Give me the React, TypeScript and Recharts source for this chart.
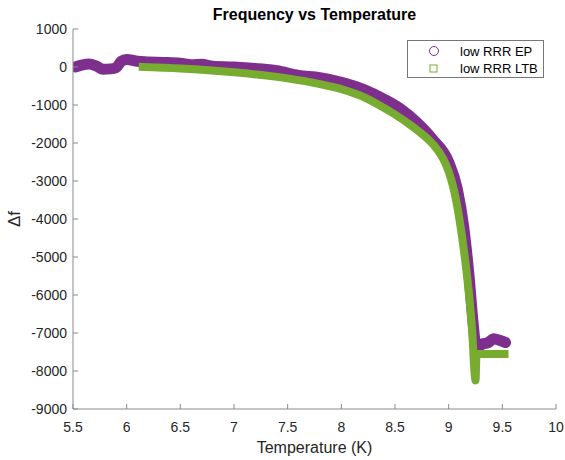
import { ComposedChart, Line, XAxis, YAxis, Legend } from 'recharts'

// low RRR EP (purple circles)
const epTemp = [
  5.52, 5.58, 5.65, 5.72, 5.78, 5.85, 5.9, 5.95, 6.0, 6.1, 6.2, 6.35, 6.5, 6.6, 6.7, 6.8, 7.0, 7.2, 7.4,
  7.6, 7.8, 8.0, 8.2, 8.4, 8.55, 8.7, 8.85, 9.0, 9.08, 9.14, 9.19, 9.23, 9.26, 9.3, 9.37, 9.42, 9.48, 9.53,
]
const epShift = [
  0, 50, 80, 20, -60, -50, -20, 150, 200, 150, 130, 120, 100, 60, 70, 20, 0, -40, -100,
  -220, -280, -400, -580, -850, -1100, -1450, -1900, -2500, -3200, -4200, -5500, -6800, -7500, -7300, -7250, -7150, -7200, -7250,
]

// low RRR LTB (green squares)
const ltbTemp = [
  6.15, 6.5, 7.0, 7.5, 7.8, 8.0, 8.2, 8.35, 8.5, 8.65, 8.75, 8.85, 8.95, 9.0, 9.05, 9.1, 9.15, 9.19, 9.22,
  9.24, 9.25, 9.26, 9.52,
]
const ltbShift = [
  0, -40, -140, -300, -450, -580, -780, -1000, -1250, -1540, -1760, -2020, -2420, -2750, -3250, -4000, -5000,
  -6000, -7000, -8000, -8250, -7550, -7550,
]

const xTicks = [5.5, 6, 6.5, 7, 7.5, 8, 8.5, 9, 9.5, 10]
const yTicks = [1000, 0, -1000, -2000, -3000, -4000, -5000, -6000, -7000, -8000, -9000]

const epData = epTemp.map((t, i) => ({ t, df: epShift[i] }))
const ltbData = ltbTemp.map((t, i) => ({ t, df: ltbShift[i] }))

const FONT = '"Liberation Sans", Arial, Helvetica, sans-serif'
const PURPLE = '#7E2F8E'
const GREEN = '#77AC30'
const AXIS = '#8a8a8a'

const XTick = ({ x = 0, y = 0, payload }: any) => (
  <g>
    <line x1={x} y1={y} x2={x} y2={y - 5} stroke={AXIS} />
    <text x={x} y={y + 23} textAnchor="middle" fill="#262626" fontSize={14} fontFamily={FONT}>
      {payload?.value}
    </text>
  </g>
)

const YTick = ({ x = 0, y = 0, payload }: any) => (
  <g>
    <line x1={x} y1={y} x2={x + 5} y2={y} stroke={AXIS} />
    <text x={x - 6} y={y + 5} textAnchor="end" fill="#262626" fontSize={14} fontFamily={FONT}>
      {payload?.value}
    </text>
  </g>
)

const LegendBox = () => (
  <div
    style={{
      width: 135,
      height: 36,
      border: '1px solid #777',
      background: '#fff',
      fontFamily: FONT,
      fontSize: 13,
      color: '#000',
      position: 'relative',
    }}
  >
    <svg width={135} height={36} style={{ position: 'absolute', left: 0, top: 0 }}>
      <circle cx={26} cy={10} r={4.5} fill="none" stroke={PURPLE} strokeWidth={1} />
      <rect x={22} y={24} width={7} height={7} fill="none" stroke={GREEN} strokeWidth={1} />
      <text x={52} y={15} fontSize={13} fontFamily={FONT}>low RRR EP</text>
      <text x={52} y={32} fontSize={13} fontFamily={FONT}>low RRR LTB</text>
    </svg>
  </div>
)

export default function App() {
  return (
    <div style={{ position: 'absolute', left: 0, top: 0, width: 565, height: 460, background: '#fff' }}>
      <ComposedChart width={565} height={460} margin={{ top: 29, right: 9, bottom: 50, left: 72 }}>
        <XAxis
          type="number"
          dataKey="t"
          domain={[5.5, 10]}
          ticks={xTicks}
          interval={0}
          height={1}
          tickSize={0}
          tickMargin={0}
          stroke={AXIS}
          tick={<XTick />}
          allowDataOverflow
        />
        <YAxis
          type="number"
          dataKey="df"
          domain={[-9000, 1000]}
          ticks={yTicks}
          interval={0}
          width={1}
          tickSize={0}
          tickMargin={0}
          stroke={AXIS}
          tick={<YTick />}
          allowDataOverflow
        />
        <Legend
          layout="vertical"
          align="center"
          verticalAlign="middle"
          wrapperStyle={{ top: 40, left: 407, width: 137 }}
          content={() => <LegendBox />}
        />
        <Line
          data={epData}
          dataKey="df"
          type="monotone"
          stroke={PURPLE}
          strokeWidth={11}
          strokeLinecap="round"
          strokeLinejoin="round"
          dot={false}
          isAnimationActive={false}
        />
        <Line
          data={ltbData}
          dataKey="df"
          type="monotone"
          stroke={GREEN}
          strokeWidth={8}
          strokeLinecap="square"
          strokeLinejoin="bevel"
          dot={false}
          isAnimationActive={false}
        />
      </ComposedChart>
      <div
        style={{
          position: 'absolute',
          left: 73,
          width: 483,
          top: 6,
          textAlign: 'center',
          fontFamily: FONT,
          fontWeight: 'bold',
          fontSize: 16,
          color: '#000',
        }}
      >
        Frequency vs Temperature
      </div>
      <div
        style={{
          position: 'absolute',
          left: 73,
          width: 483,
          top: 439,
          textAlign: 'center',
          fontFamily: FONT,
          fontSize: 16,
          color: '#262626',
        }}
      >
        Temperature (K)
      </div>
      <div
        style={{
          position: 'absolute',
          left: 15,
          top: 219,
          transform: 'translate(-50%, -50%) rotate(-90deg)',
          fontFamily: FONT,
          fontSize: 17,
          color: '#262626',
          whiteSpace: 'nowrap',
        }}
      >
        Δf
      </div>
    </div>
  )
}
